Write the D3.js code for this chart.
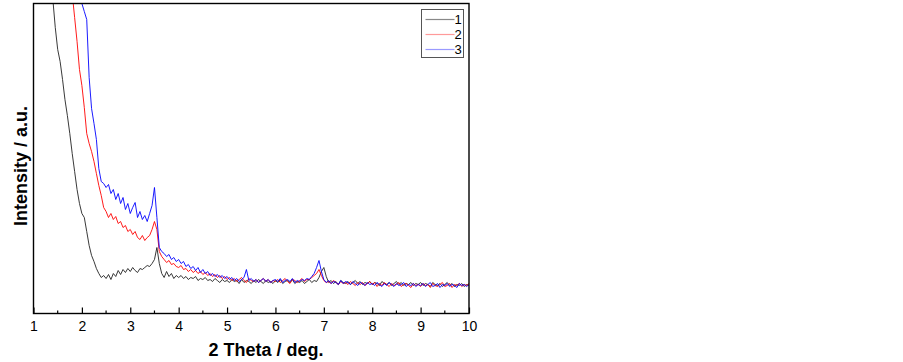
<!DOCTYPE html>
<html>
<head>
  <meta charset="UTF-8">
  <script src="https://d3js.org/d3.v7.min.js"></script>
  <style>
    body { margin: 0; background: #fff; }
    text { font-family: Arial, "Liberation Sans", sans-serif; }
  </style>
</head>
<body>
  <svg width="903" height="362" id="xrd"></svg>

  <script>
    // 2 theta sampling (deg), one reading every 0.05 deg from 1.30 to 10.00
    let theta = d3.range(130, 1001, 5).map(d => d / 100);

    // intensities (arbitrary units, 0 = bottom of frame)
    let sample1 = [
      400, 350, 314, 286, 264, 252, 234, 214, 198, 180, 160, 142, 124, 110,
      100, 96, 82, 68, 58, 52, 45, 40, 36, 38, 35, 39, 34, 40, 37, 43, 39, 44, 41, 45,
      42, 46, 43, 41, 45, 44, 46, 48, 47, 50, 54, 66, 50, 40, 36, 42, 37, 40, 35, 38,
      36, 38, 35, 37, 34, 36, 35, 37, 33, 35, 34, 36, 33, 34, 32, 35, 33, 31, 34, 32,
      33, 31, 34, 32, 33, 30, 34, 31, 33, 32, 30, 33, 31, 34, 32, 30, 33, 31, 32, 30,
      33, 31, 34, 30, 32, 33, 31, 34, 30, 32, 31, 33, 30, 32, 34, 31, 33, 32, 36, 42,
      46, 37, 31, 33, 30, 32, 29, 33, 31, 30, 32, 29, 31, 33, 30, 32, 29, 31, 30, 32,
      29, 31, 30, 28, 32, 30, 29, 31, 28, 30, 32, 29, 31, 28, 30, 29, 31, 28, 30, 29,
      31, 28, 30, 29, 27, 31, 29, 28, 30, 27, 29, 31, 28, 30, 27, 29, 28, 30, 27, 29,
      28
    ];
    let sample2 = [
      400, 400, 400, 400, 400, 400, 400, 400, 400, 400, 320, 296, 272, 244,
      228, 206, 180, 170, 162, 152, 140, 128, 118, 106, 102, 96, 100, 94, 97, 90, 92, 86, 88, 82,
      84, 79, 82, 76, 74, 78, 73, 76, 78, 84, 92, 84, 62, 57, 54, 51, 53, 49, 50, 47,
      46, 48, 44, 45, 42, 44, 41, 43, 40, 42, 39, 41, 38, 40, 37, 39, 36, 38, 35, 37,
      34, 36, 33, 35, 32, 34, 36, 33, 31, 35, 33, 32, 34, 31, 33, 35, 32, 34, 31, 33,
      32, 34, 31, 33, 35, 32, 30, 34, 33, 31, 33, 35, 32, 34, 34, 36, 38, 40, 44, 38,
      33, 31, 32, 30, 33, 31, 29, 32, 30, 31, 29, 32, 30, 28, 31, 29, 31, 28, 30, 32,
      29, 31, 27, 30, 28, 31, 29, 27, 30, 28, 29, 31, 27, 29, 30, 28, 26, 30, 28, 29,
      27, 30, 28, 29, 26, 30, 28, 27, 29, 31, 27, 28, 30, 26, 29, 28, 30, 27, 29, 28,
      30
    ];
    let sample3 = [
      400, 400, 400, 400, 400, 400, 400, 400, 400, 400, 400, 400, 400, 360,
      310, 302, 294, 236, 205, 190, 174, 145, 132, 130, 126, 129, 120, 124, 114, 120, 110, 116, 104, 110,
      100, 106, 111, 96, 102, 94, 98, 92, 100, 108, 126, 96, 66, 62, 60, 57, 59, 54, 56, 52,
      54, 50, 52, 47, 49, 45, 47, 43, 46, 41, 44, 40, 42, 38, 40, 37, 39, 36, 38, 35,
      37, 34, 36, 33, 35, 32, 34, 36, 44, 33, 35, 32, 34, 31, 33, 35, 32, 34, 31, 33,
      34, 32, 35, 31, 33, 34, 32, 35, 31, 33, 32, 34, 33, 35, 34, 37, 40, 46, 53, 42,
      34, 31, 33, 30, 32, 31, 29, 33, 30, 32, 31, 29, 32, 30, 28, 31, 30, 28, 31, 29,
      30, 28, 31, 29, 27, 30, 28, 31, 29, 27, 30, 28, 29, 31, 27, 29, 28, 30, 27, 29,
      28, 30, 27, 29, 31, 27, 28, 30, 26, 29, 28, 30, 27, 29, 28, 26, 30, 28, 29, 27,
      29
    ];

    let seriesNames = ["1", "2", "3"];
    let seriesColors = ["#222222", "#ff0000", "#0000ff"];
    let legendColors = ["#888888", "#ff9a9a", "#9a9aff"];
    let xTicks = [1, 2, 3, 4, 5, 6, 7, 8, 9, 10];
    let xMinorTicks = [1.5, 2.5, 3.5, 4.5, 5.5, 6.5, 7.5, 8.5, 9.5];

    let margin = { top: 3.5, left: 33.5 };
    let chartWidth = 435.5;
    let chartHeight = 310;

    let svg = d3.select("#xrd");

    let xScale = d3.scaleLinear().domain([1, 10]).range([0, chartWidth]);
    let yScale = d3.scaleLinear().domain([0, 310]).range([chartHeight, 0]);

    svg.append("defs").append("clipPath")
      .attr("id", "plotclip")
      .append("rect")
      .attr("width", chartWidth)
      .attr("height", chartHeight);

    let chart = svg.append("g")
      .attr("transform", `translate(${margin.left}, ${margin.top})`);

    // curves
    let allSeries = [sample1, sample2, sample3];
    let line = d3.line()
      .x((d, i) => xScale(theta[i]))
      .y(d => yScale(d));

    let curves = chart.append("g").attr("clip-path", "url(#plotclip)");
    allSeries.forEach(function(s, k) {
      curves.append("path")
        .datum(s)
        .attr("d", line)
        .attr("fill", "none")
        .attr("stroke", seriesColors[k])
        .attr("stroke-width", 0.9)
        .attr("stroke-linejoin", "round");
    });

    // frame
    chart.append("rect")
      .attr("width", chartWidth)
      .attr("height", chartHeight)
      .attr("fill", "none")
      .attr("stroke", "#000")
      .attr("stroke-width", 1.4);

    // bottom axis, ticks pointing inwards
    let xAxis = d3.axisBottom(xScale)
      .tickValues(xTicks)
      .tickFormat(d3.format("d"))
      .tickSizeInner(-6)
      .tickSizeOuter(0)
      .tickPadding(8);

    let gx = chart.append("g")
      .attr("transform", `translate(0, ${chartHeight})`)
      .call(xAxis);
    gx.select(".domain").remove();
    gx.selectAll("line").attr("stroke", "#000").attr("stroke-width", 1.2);
    gx.selectAll("text")
      .attr("font-size", 14)
      .attr("font-family", "Arial, 'Liberation Sans', sans-serif")
      .attr("fill", "#000");

    chart.append("g")
      .selectAll("line")
      .data(xMinorTicks)
      .join("line")
      .attr("x1", d => xScale(d))
      .attr("x2", d => xScale(d))
      .attr("y1", chartHeight)
      .attr("y2", chartHeight - 3)
      .attr("stroke", "#000")
      .attr("stroke-width", 1.2);

    // axis titles
    svg.append("text")
      .attr("x", 266)
      .attr("y", 356)
      .attr("text-anchor", "middle")
      .attr("font-size", 18)
      .attr("font-weight", "bold")
      .text("2 Theta / deg.");

    svg.append("text")
      .attr("transform", "translate(27, 166) rotate(-90)")
      .attr("text-anchor", "middle")
      .attr("font-size", 18)
      .attr("font-weight", "bold")
      .text("Intensity / a.u.");

    // legend
    let legend = svg.append("g").attr("transform", "translate(421.5, 9.5)");
    legend.append("rect")
      .attr("width", 42)
      .attr("height", 48)
      .attr("fill", "#fff")
      .attr("stroke", "#555")
      .attr("stroke-width", 1);

    let rows = legend.selectAll(".row")
      .data(seriesNames)
      .join("g")
      .attr("class", "row")
      .attr("transform", (d, i) => `translate(0, ${10 + i * 15})`);

    rows.append("line")
      .attr("x1", 4)
      .attr("x2", 33)
      .attr("stroke", (d, i) => legendColors[i])
      .attr("stroke-width", 1.2);

    rows.append("text")
      .attr("x", 33)
      .attr("y", 4.5)
      .attr("font-size", 13)
      .attr("fill", "#000")
      .text(d => d);
  </script>
</body>
</html>
